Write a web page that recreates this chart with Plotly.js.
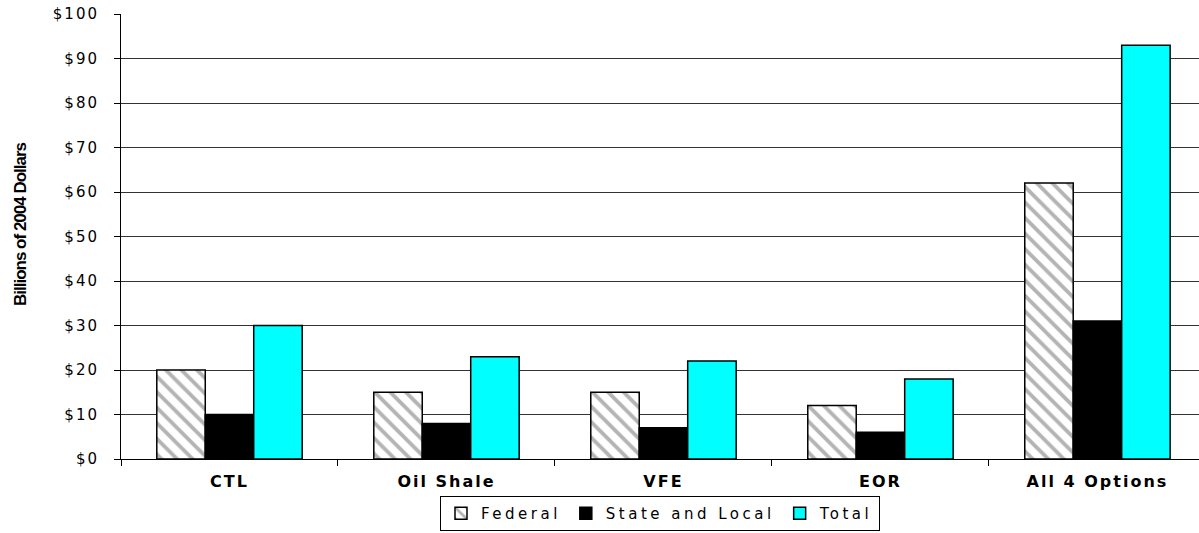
<!DOCTYPE html>
<html>
<head>
<meta charset="utf-8">
<script src="https://cdn.plot.ly/plotly-3.0.1.min.js"></script>
<style>
html,body{margin:0;padding:0;background:#fff;}
#chart{width:1199px;height:533px;}
.ytick text{letter-spacing:2px;}
.xtick text{letter-spacing:2px;}
.legendtext{letter-spacing:3.5px;}
.annotation-text{letter-spacing:-1px;}
</style>
</head>
<body>
<div id="chart"></div>
<script>
var categories = ["CTL", "Oil Shale", "VFE", "EOR", "All 4 Options"];
var federal = [20, 15, 15, 12, 62];
var stateLocal = [10, 8, 7, 6, 31];
var total = [30, 23, 22, 18, 93];
var yTickVals = [0, 10, 20, 30, 40, 50, 60, 70, 80, 90, 100];
var yTickText = ["$0", "$10", "$20", "$30", "$40", "$50", "$60", "$70", "$80", "$90", "$100"];
var yTitle = "Billions of 2004 Dollars";

var traces = [
  {type: "bar", name: "Federal", x: categories, y: federal,
   marker: {color: "#ffffff", line: {color: "#000", width: 1.5},
            pattern: {shape: "\\", fgcolor: "#b4b4b4", bgcolor: "#ffffff", size: 11, solidity: 0.35}}},
  {type: "bar", name: "State and Local", x: categories, y: stateLocal,
   marker: {color: "#000000", line: {color: "#000", width: 1.5}}},
  {type: "bar", name: "Total", x: categories, y: total,
   marker: {color: "#00ffff", line: {color: "#000", width: 1.5}}}
];

var layout = {
  width: 1199, height: 533,
  margin: {l: 121, r: 0, t: 14, b: 74, autoexpand: false},
  paper_bgcolor: "#fff", plot_bgcolor: "#fff",
  barmode: "group", bargap: 0.33, bargroupgap: 0,
  showlegend: true,
  font: {family: "DejaVu Sans, Arial, sans-serif", color: "#000"},
  xaxis: {
    type: "category", range: [-0.5, 4.468],
    tickson: "boundaries", ticks: "outside", ticklen: 6, tickcolor: "#000",
    showline: true, linecolor: "#000", linewidth: 1,
    showgrid: false, zeroline: false,
    tickfont: {size: 16, family: "DejaVu Sans, Arial, sans-serif", weight: "bold"},
    ticklabelstandoff: 8
  },
  yaxis: {
    range: [0, 100], tickvals: yTickVals, ticktext: yTickText,
    ticks: "outside", ticklen: 6, tickcolor: "#000",
    showline: true, linecolor: "#000", linewidth: 1,
    showgrid: true, gridcolor: "#333", gridwidth: 1, zeroline: false,
    tickfont: {size: 15, family: "DejaVu Sans, Arial, sans-serif"},
    ticklabelstandoff: 12
  },
  annotations: [{
    text: yTitle, xref: "paper", yref: "paper",
    x: -101 / 1078, y: (459 - 224) / 445, xanchor: "center", yanchor: "middle",
    textangle: -90, showarrow: false,
    font: {size: 17, family: "Liberation Sans, Arial, sans-serif", weight: "bold", color: "#000"}
  }],
  legend: {
    orientation: "h", x: 0.5, xanchor: "center", y: -(531 - 459) / 445, yanchor: "bottom",
    bordercolor: "#000", borderwidth: 1, bgcolor: "#fff", maxheight: 200,
    font: {size: 15, family: "DejaVu Sans, Arial, sans-serif"},
    itemwidth: 30, tracegroupgap: 0
  }
};

Plotly.newPlot("chart", traces, layout, {displayModeBar: false, staticPlot: true});
</script>
</body>
</html>
